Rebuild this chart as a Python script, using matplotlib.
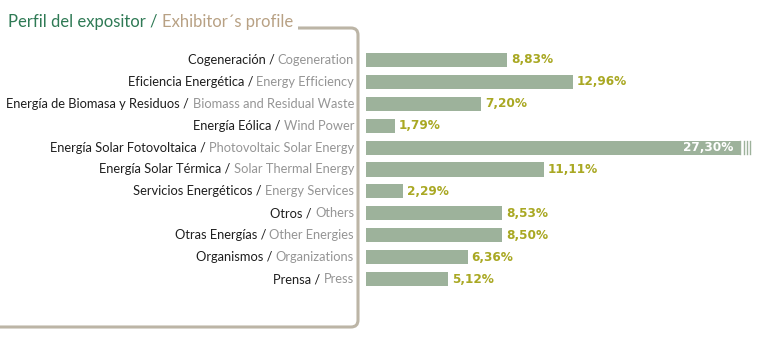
import matplotlib
matplotlib.use("Agg")
import matplotlib.pyplot as plt
from matplotlib.path import Path
from matplotlib.patches import PathPatch

# Perfil del expositor
categorias = ["Cogeneración", "Eficiencia Energética", "Energía de Biomasa y Residuos",
              "Energía Eólica", "Energía Solar Fotovoltaica", "Energía Solar Térmica",
              "Servicios Energéticos", "Otros", "Otras Energías", "Organismos", "Prensa"]
categories = ["Cogeneration", "Energy Efficiency", "Biomass and Residual Waste",
              "Wind Power", "Photovoltaic Solar Energy", "Solar Thermal Energy",
              "Energy Services", "Others", "Other Energies", "Organizations", "Press"]
porcentajes = [8.83, 12.96, 7.20, 1.79, 27.30, 11.11, 2.29, 8.53, 8.50, 6.36, 5.12]

W, H = 760, 338
fig = plt.figure(figsize=(W / 100, H / 100), dpi=100)
plt.rcParams['font.family'] = ['Lato', 'DejaVu Sans']

bar_color = '#9db29b'
pct_color = '#a9a823'
frame_color = '#bcb5a6'
xmax = 23.4

ax = fig.add_axes([366 / W, 1 - 290 / H, (740 - 366) / W, (290 - 49) / H])
y = list(range(len(categorias)))
ax.barh(y, porcentajes, height=0.64, color=bar_color)
ax.set_xlim(0, xmax)
ax.set_ylim(len(categorias) - 0.5, -0.5)
ax.axis('off')

for i, v in enumerate(porcentajes):
    txt = f"{v:.2f}%".replace('.', ',')
    if v > xmax:
        ax.text(xmax - 0.4, i, txt, color='white', fontsize=8.7, fontweight='bold',
                family='DejaVu Sans', ha='right', va='center')
        # marcas de corte de la barra
        for k in range(4):
            ax.plot([xmax + 0.03 + k * 0.19] * 2, [i - 0.3, i + 0.3], color=bar_color,
                    lw=1.0, clip_on=False)
    else:
        ax.text(v + 0.25, i, txt, color=pct_color, fontsize=8.7, fontweight='bold',
                family='DejaVu Sans', ha='left', va='center')

# etiquetas en dos colores: español oscuro, inglés gris
fig.canvas.draw()
renderer = fig.canvas.get_renderer()
for i, (es, en) in enumerate(zip(categorias, categories)):
    yc = 1 - (49 + (i + 0.5) * (290 - 49) / 11) / H
    t_en = fig.text(354 / W, yc, en, color='#959595', fontsize=9.3, ha='right', va='center')
    bb = t_en.get_window_extent(renderer)
    fig.text(bb.x0 / W, yc, es + " / ", color='#1e1e1e', fontsize=9.3, ha='right', va='center')

# título
t1 = fig.text(8 / W, 1 - 22 / H, "Perfil del expositor / ", color='#2f7a55', fontsize=12,
              ha='left', va='center')
bb = t1.get_window_extent(renderer)
t2 = fig.text(bb.x1 / W, 1 - 22 / H, "Exhibitor´s profile", color='#b8a184', fontsize=12,
              ha='left', va='center')
bb2 = t2.get_window_extent(renderer)

# marco con esquinas redondeadas
x0 = bb2.x1 + 5
xr, ytop, ybot, r = 358, H - 28, H - 327, 7
verts = [(x0, ytop), (xr - r, ytop), (xr, ytop), (xr, ytop - r),
         (xr, ybot + r), (xr, ybot), (xr - r, ybot), (0, ybot)]
codes = [Path.MOVETO, Path.LINETO, Path.CURVE3, Path.CURVE3,
         Path.LINETO, Path.CURVE3, Path.CURVE3, Path.LINETO]
frame = PathPatch(Path(verts, codes), fill=False, edgecolor=frame_color, lw=2.2,
                  transform=None)
fig.patches.append(frame)

fig.savefig("out.png", dpi=100)
